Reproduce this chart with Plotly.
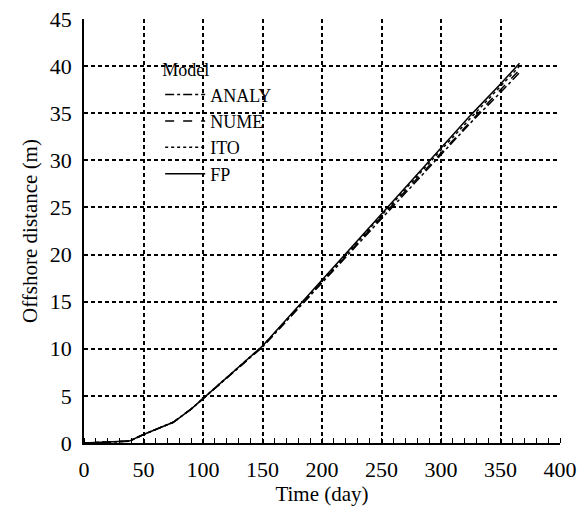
import plotly.graph_objects as go

days = [0, 10, 20, 30, 38, 50, 60, 75, 90, 100, 125, 150, 175, 200, 225, 250, 275, 300, 325, 350, 366]
fp    = [0, 0.05, 0.1, 0.15, 0.2, 0.9, 1.4, 2.2, 3.6, 4.7, 7.5, 10.3, 13.8, 17.3, 20.9, 24.4, 27.9, 31.4, 34.8, 38.1, 40.3]
ito   = [0, 0.05, 0.1, 0.15, 0.2, 0.9, 1.4, 2.2, 3.6, 4.7, 7.5, 10.3, 13.7, 17.2, 20.7, 24.2, 27.7, 31.1, 34.5, 37.8, 40.0]
nume  = [0, 0.05, 0.1, 0.15, 0.2, 0.9, 1.4, 2.2, 3.6, 4.7, 7.5, 10.2, 13.6, 17.1, 20.6, 24.0, 27.4, 30.8, 34.2, 37.5, 39.6]
analy = [0, 0.05, 0.1, 0.15, 0.2, 0.9, 1.4, 2.2, 3.6, 4.7, 7.4, 10.2, 13.6, 17.0, 20.5, 23.9, 27.3, 30.6, 34.0, 37.2, 39.3]

series = [("ANALY", analy, "dashdot"), ("NUME", nume, "dash"), ("ITO", ito, "dot"), ("FP", fp, "solid")]

FONT = "Liberation Serif"

fig = go.Figure()
for name, vals, dash in series:
    fig.add_trace(go.Scatter(x=days, y=vals, mode="lines", name=name,
                             line=dict(color="black", width=1.5, dash=dash)))

fig.update_layout(
    width=584, height=512,
    margin=dict(l=84, r=24, t=19, b=69),
    paper_bgcolor="white", plot_bgcolor="white",
    font=dict(family=FONT, size=21, color="black"),
    showlegend=True,
    legend=dict(
        title=dict(text="Model", font=dict(family=FONT, size=18)),
        x=0.16, y=0.92, xanchor="left", yanchor="top",
        bgcolor="rgba(0,0,0,0)", font=dict(family=FONT, size=18), tracegroupgap=0,
        itemwidth=40,
    ),
    xaxis=dict(
        range=[0, 400], tickvals=[0, 50, 100, 150, 200, 250, 300, 350, 400],
        showgrid=True, gridcolor="black", gridwidth=2, griddash="4px,3px",
        showline=True, linecolor="black", linewidth=1.5, zeroline=False,
        automargin=False,
        ticks="", ticklabelstandoff=6, tickfont=dict(family=FONT, size=22),
        minor=dict(dtick=10, ticks="inside", ticklen=5, tickcolor="black", tickwidth=1, showgrid=False),
        title=dict(text="Time (day)", standoff=2, font=dict(family=FONT, size=21)),
    ),
    yaxis=dict(
        range=[0, 45], tickvals=[0, 5, 10, 15, 20, 25, 30, 35, 40, 45],
        showgrid=True, gridcolor="black", gridwidth=2, griddash="4px,3px",
        showline=True, linecolor="black", linewidth=1.5, zeroline=False,
        automargin=False,
        ticks="", ticklabelstandoff=6, tickfont=dict(family=FONT, size=22),
        title=dict(text="Offshore distance (m)", standoff=6, font=dict(family=FONT, size=21)),
    ),
)

fig.write_html("out.html")
